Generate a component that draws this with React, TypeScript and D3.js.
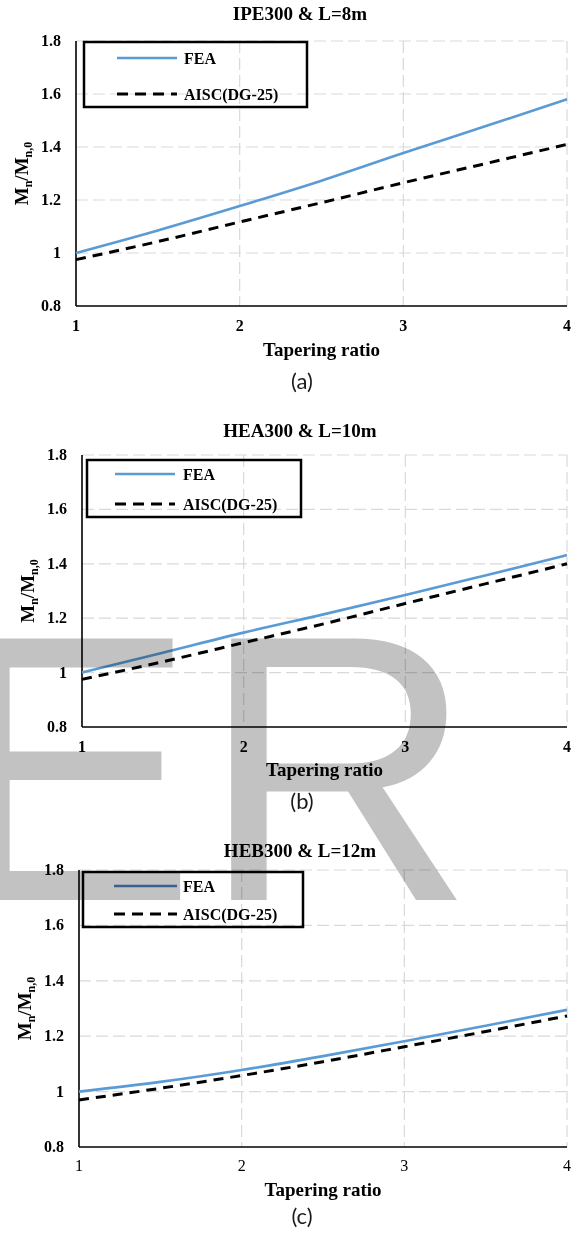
import React from "react";
import * as d3 from "d3";

// ---- data ----
const taperingRatio = [1, 1.5, 2, 2.5, 3, 3.5, 4];
const xTicks = [1, 2, 3, 4];
const yTicks = [0.8, 1, 1.2, 1.4, 1.6, 1.8];
const yTickLabels = ["0.8", "1", "1.2", "1.4", "1.6", "1.8"];
const seriesNames = ["FEA", "AISC(DG-25)"];
const chartTitles = ["IPE300 & L=8m", "HEA300 & L=10m", "HEB300 & L=12m"];
const captions = ["(a)", "(b)", "(c)"];
const feaA = [1.0, 1.085, 1.177, 1.273, 1.377, 1.478, 1.58];
const aiscA = [0.975, 1.043, 1.117, 1.19, 1.265, 1.337, 1.41];
const feaB = [1.0, 1.073, 1.147, 1.215, 1.285, 1.358, 1.432];
const aiscB = [0.975, 1.04, 1.11, 1.18, 1.254, 1.327, 1.4];
const feaC = [1.0, 1.035, 1.078, 1.128, 1.182, 1.238, 1.295];
const aiscC = [0.97, 1.012, 1.058, 1.108, 1.162, 1.217, 1.273];

// ---- layout ----
const panels = [
  { fea: feaA, aisc: aiscA, top: 41, bottom: 306, left: 76, right: 567, titleY: 20, tickY: 331, xTitleY: 356, capY: 389,
    box: [84, 42, 307, 107], legFeaY: 58, legAiscY: 94, legX0: 117, legX1: 177, legTextX: 184, feaLegColor: "#5b9bd5", xTickBold: true },
  { fea: feaB, aisc: aiscB, top: 455, bottom: 727, left: 82, right: 567, titleY: 437, tickY: 752, xTitleY: 776, capY: 809,
    box: [87, 460, 301, 517], legFeaY: 474, legAiscY: 504, legX0: 115, legX1: 175, legTextX: 183, feaLegColor: "#5b9bd5", xTickBold: true },
  { fea: feaC, aisc: aiscC, top: 870, bottom: 1147, left: 79, right: 567, titleY: 857, tickY: 1171, xTitleY: 1196, capY: 1224,
    box: [83, 872, 303, 927], legFeaY: 886, legAiscY: 914, legX0: 114, legX1: 177, legTextX: 183, feaLegColor: "#4a7ebb", xTickBold: false },
];

const SERIF = "'Liberation Serif', 'Times New Roman', serif";
const SANS_CAP = "Lato, 'Open Sans', sans-serif";

function Panel({ p, idx }: { p: any; idx: number }) {
  const x = d3.scaleLinear().domain([1, 4]).range([p.left, p.right]);
  const y = d3.scaleLinear().domain([0.8, 1.8]).range([p.bottom, p.top]);
  const line = d3
    .line<number>()
    .x((_, i) => x(taperingRatio[i]))
    .y((d) => y(d))
    .curve(d3.curveMonotoneX);
  const cx = (p.left + p.right) / 2;
  const cy = (p.top + p.bottom) / 2;
  const [bx0, by0, bx1, by1] = p.box;
  return (
    <g>
      <text x={300} y={p.titleY} textAnchor="middle" fontFamily={SERIF} fontWeight="bold" fontSize={19} fill="#000">
        {chartTitles[idx]}
      </text>
      {/* grid */}
      {yTicks.filter((t) => t > 0.8).map((t) => (
        <line key={"gy" + t} x1={p.left} x2={p.right} y1={y(t)} y2={y(t)} stroke="#d9d9d9" strokeWidth={1.2} strokeDasharray="12,5" />
      ))}
      {xTicks.filter((t) => t > 1).map((t) => (
        <line key={"gx" + t} x1={x(t)} x2={x(t)} y1={p.top} y2={p.bottom} stroke="#d9d9d9" strokeWidth={1.2} strokeDasharray="12,5" />
      ))}
      {/* axes */}
      <line x1={p.left} x2={p.left} y1={p.top} y2={p.bottom} stroke="#000" strokeWidth={1.6} />
      <line x1={p.left} x2={p.right} y1={p.bottom} y2={p.bottom} stroke="#000" strokeWidth={1.6} />
      {/* tick labels */}
      {yTicks.map((t, i) => (
        <text key={"ty" + t} x={p.left - 15} y={y(t) + 5} textAnchor="end" fontFamily={SERIF} fontWeight="bold" fontSize={16} fill="#000">
          {yTickLabels[i]}
        </text>
      ))}
      {xTicks.map((t) => (
        <text key={"tx" + t} x={x(t)} y={p.tickY} textAnchor="middle" fontFamily={SERIF} fontWeight={p.xTickBold ? "bold" : "normal"} fontSize={16} fill="#000">
          {t}
        </text>
      ))}
      {/* axis titles */}
      <text x={cx} y={p.xTitleY} textAnchor="middle" fontFamily={SERIF} fontWeight="bold" fontSize={19} fill="#000">
        Tapering ratio
      </text>
      <text
        transform={`translate(${p.left - 48},${cy}) rotate(-90)`}
        textAnchor="middle"
        fontFamily={SERIF}
        fontWeight="bold"
        fontSize={19}
        fill="#000"
      >
        M<tspan fontSize={12} dy={4}>n</tspan>
        <tspan dy={-4}>/M</tspan>
        <tspan fontSize={12} dy={4}>n,0</tspan>
      </text>
      {/* series */}
      <path d={line(p.fea) || ""} fill="none" stroke="#5b9bd5" strokeWidth={2.6} />
      <path d={line(p.aisc) || ""} fill="none" stroke="#000" strokeWidth={3} strokeDasharray="10,7" />
      {/* legend */}
      <rect x={bx0} y={by0} width={bx1 - bx0} height={by1 - by0} fill="none" stroke="#000" strokeWidth={2.5} />
      <line x1={p.legX0} x2={p.legX1} y1={p.legFeaY} y2={p.legFeaY} stroke={p.feaLegColor} strokeWidth={2.6} />
      <text x={p.legTextX} y={p.legFeaY + 6} fontFamily={SERIF} fontWeight="bold" fontSize={16} fill="#000">
        {seriesNames[0]}
      </text>
      <line x1={p.legX0} x2={p.legX1} y1={p.legAiscY} y2={p.legAiscY} stroke="#000" strokeWidth={3} strokeDasharray="11,7" />
      <text x={p.legTextX} y={p.legAiscY + 6} fontFamily={SERIF} fontWeight="bold" fontSize={16} fill="#000">
        {seriesNames[1]}
      </text>
      {/* caption */}
      <text x={302} y={p.capY} textAnchor="middle" fontFamily={SANS_CAP} fontSize={22} fill="#1a1a1a">
        {captions[idx]}
      </text>
    </g>
  );
}

export default function App() {
  return (
    <svg
      width={576}
      height={1234}
      viewBox="0 0 576 1234"
      style={{ position: "absolute", left: 0, top: 0, background: "#fff" }}
    >
      <rect x={0} y={0} width={576} height={1234} fill="#fff" />
      {panels.map((p, i) => (
        <Panel key={i} p={p} idx={i} />
      ))}
      <g style={{ mixBlendMode: "multiply" }} fill="#c2c2c2" fontFamily="'Liberation Sans', Arial, sans-serif" fontSize={380}>
        <text x={-57} y={900}>E</text>
        <text x={200} y={900}>R</text>
      </g>
    </svg>
  );
}
